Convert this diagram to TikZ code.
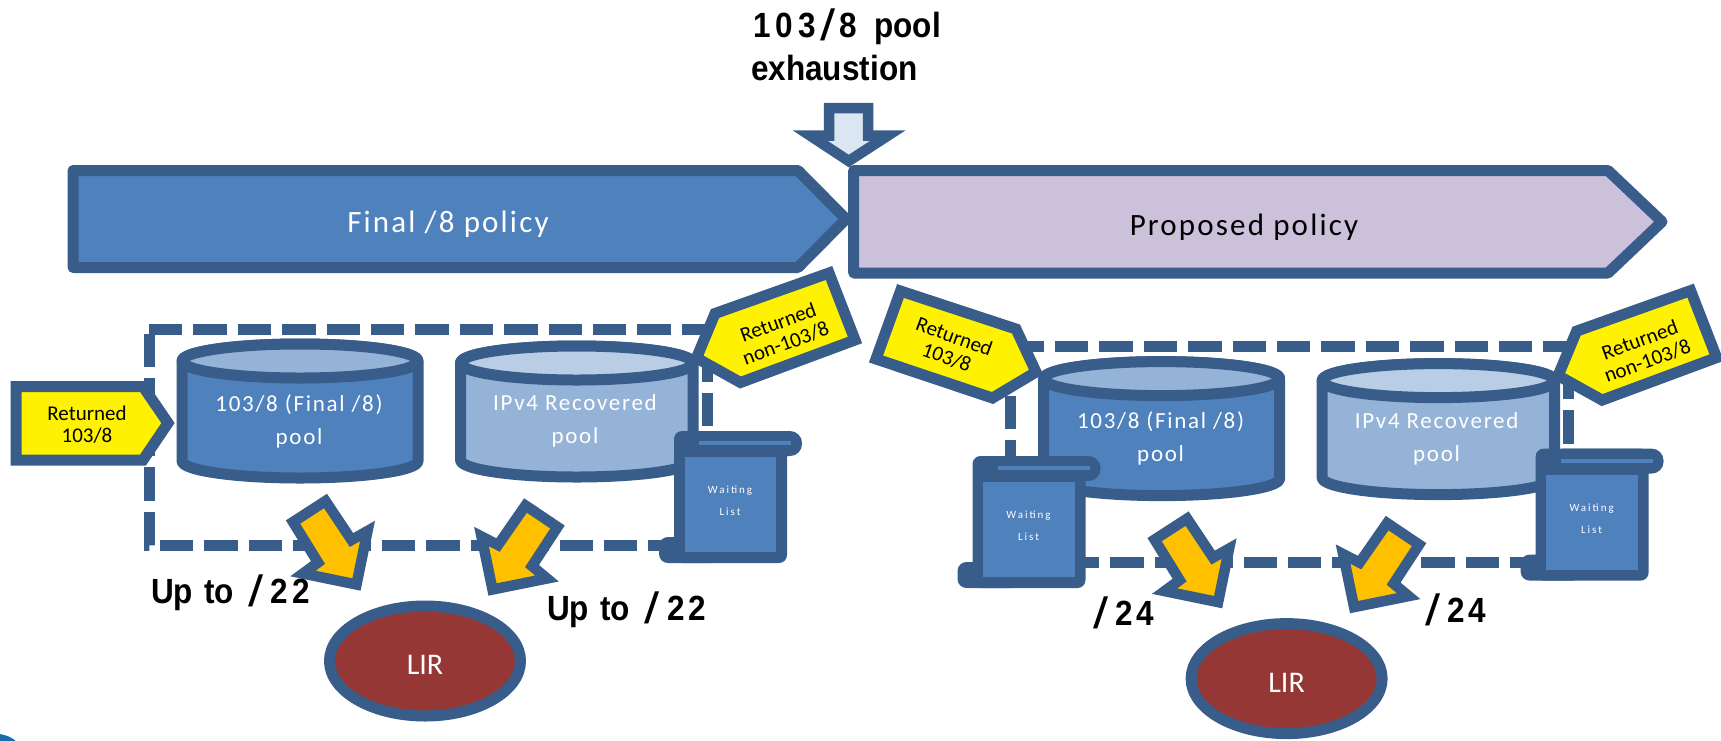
\documentclass[tikz,border=0pt]{standalone}
\usepackage{fontspec}
\setmainfont{Carlito}
\newfontfamily\carlS[LetterSpace=7]{Carlito}
\newfontfamily\carlP[LetterSpace=7.5]{Carlito}
\newfontfamily\carlW[LetterSpace=18]{Carlito}
\newfontfamily\heavy[FakeStretch=0.9]{Liberation Sans Bold}
\newfontfamily\lightface{Liberation Sans}
\newcommand{\fsz}[2]{\fontsize{#1}{#2}\selectfont}
\newcommand{\wslash}{\raisebox{-3pt}{\scalebox{1.55}[1.25]{\lightface /}}}
\definecolor{ol}{HTML}{385D8A}
\definecolor{blueA}{HTML}{4F81BD}
\definecolor{blueB}{HTML}{95B3D7}
\definecolor{blueC}{HTML}{B9CDE5}
\definecolor{lilac}{HTML}{CCC1DA}
\definecolor{pale}{HTML}{DCE6F2}
\definecolor{brick}{HTML}{953735}
\definecolor{amber}{HTML}{FFC000}
\definecolor{blob}{HTML}{1B6CA8}
\tikzset{
  shp/.style={draw=ol,line width=11pt,line join=round},
  sharp/.style={draw=ol,line width=10.5pt,line join=miter,miter limit=10},
  tagshape/.style={draw=ol,line width=11pt,line join=miter,miter limit=10,fill=yellow},
  dashbox/.style={draw=ol,line width=11pt,dash pattern=on 33.4pt off 11pt},
  tagtext/.style={text=black,align=center,font=\fsz{21}{22}},
  pooltext/.style={text=white,align=center,font=\carlP\fsz{23}{33}},
  waittext/.style={text=white,align=center,font=\carlW\fsz{11}{22}},
  bartext/.style={align=center,font=\carlS\fsz{31}{34}},
  liertext/.style={text=white,font=\fsz{30}{32}},
  bigtext/.style={text=black,anchor=base west,inner sep=0pt,font=\heavy\fsz{35}{43}},
}
% cylinder: left, right, top line, bottom line, body fill, top fill
\newcommand{\Cyl}[6]{%
  \draw[shp,fill=#5] (#1,#3+17) -- (#1,#4-17)
    arc[start angle=180,end angle=360,x radius={(#2-#1)/2*1pt},y radius=17pt]
    -- (#2,#3+17) arc[start angle=0,end angle=180,x radius={(#2-#1)/2*1pt},y radius=17pt] -- cycle;
  \draw[shp,fill=#6] ({(#1+#2)/2},#3+17) ellipse[x radius={(#2-#1)/2*1pt},y radius=17pt];
}
% scroll with its text; the scope gives the offset
\newcommand{\Scroll}[1]{%
  \fill[ol,rounded corners=9pt] (659,537) rectangle (720,563);
  \fill[ol,rounded corners=8pt] (674,431) rectangle (787,563);
  \fill[ol,rounded corners=12pt] (690,431) rectangle (802,456);
  \fill[blueA] (684.6,457) rectangle (776,552);
  \fill[blueA] (699,441) rectangle (791,445);
  \node[waittext] (#1) at (730,501) {Waiting\\List};
}
\newcommand{\Arrows}{%
  \draw[sharp,fill=amber] (325.5,501) -- (293,522) -- (318,562.5) -- (303,573.5) -- (356.5,584.5) -- (367.5,531) -- (351.5,540) -- cycle;
  \draw[sharp,fill=amber] (525.5,505.5) -- (557.5,527) -- (532,566) -- (547,578.5) -- (492.5,589.5) -- (481.5,536.5) -- (498,545) -- cycle;
}
\begin{document}
\begin{tikzpicture}[x=1pt,y=-1pt]
\useasboundingbox (0,0) rectangle (1721,740);
\clip (0,0) rectangle (1721,740);
\fill[white] (0,0) rectangle (1721,740);
\fill[blob] (-3,763) circle[radius=29pt];

% top labels
\node[bigtext] (pa) at (753,37.5) {1\kern5pt0\kern5pt3\kern5pt\wslash\kern4pt 8\kern17pt pool};
\node[bigtext] (pb) at (751,80) {exhaustion};

% bars
\draw[shp,fill=blueA] (73,170.5) -- (798,170.5) -- (846,219) -- (798,267.5) -- (73,267.5) -- cycle;
\draw[shp,fill=lilac] (853.7,170.5) -- (1608,170.5) -- (1662,221.7) -- (1608,273) -- (853.7,273) -- cycle;
\node[bartext,text=white] (fp) at (448,224) {Final /8 policy};
\node[bartext,text=black] (pp) at (1244,227) {Proposed policy};
\draw[sharp,fill=pale] (829,108) -- (868,108) -- (868,135.5) -- (888,135.5) -- (848.7,161) -- (810,135.5) -- (829,135.5) -- cycle;

% left half
\draw[dashbox] (149,329) -- (707,329) -- (707,545) -- (149,545) -- cycle;
\Cyl{182}{418}{344}{478}{blueA}{blueB}
\Cyl{460.5}{693}{346}{477}{blueB}{blueC}
\node[pooltext] (l1) at (299,421) {103/8 (Final /8)\\pool};
\node[pooltext] (l2) at (575,421) {IPv4 Recovered\\pool};
\draw[tagshape] (16,386.5) -- (143,386.5) -- (168,423) -- (143,460) -- (16,460) -- cycle;
\node[tagtext] (t1) at (87,425) {Returned\\103/8};
\draw[tagshape] (696.5,358) -- (715,313.5) -- (829,273) -- (855,340) -- (740.5,382.5) -- cycle;
\node[tagtext,rotate=20] (t2) at (782,333) {Returned\\non-103/8};
\Scroll{w1}
\Arrows
\draw[shp,fill=brick] (425,661) ellipse[x radius=95.5pt,y radius=55pt];
\node[liertext] (lir1) at (425,665) {LIR};
\node[bigtext] (u1) at (151,603) {Up\kern11pt to\kern15pt\wslash\kern7pt 2\kern4pt 2};
\node[bigtext] (u2) at (547,620) {Up\kern11pt to\kern15pt\wslash\kern7pt 2\kern4pt 2};

% right half
\begin{scope}[shift={(861.6,17.6)}]
\draw[dashbox] (149,329) -- (707,329) -- (707,545) -- (149,545) -- cycle;
\Cyl{182}{418}{344}{478}{blueA}{blueB}
\Cyl{460.5}{693}{346}{477}{blueB}{blueC}
\node[pooltext] (r1) at (299,421) {103/8 (Final /8)\\pool};
\node[pooltext] (r2) at (575,421) {IPv4 Recovered\\pool};
\draw[tagshape] (696.5,358) -- (715,313.5) -- (829,273) -- (855,340) -- (740.5,382.5) -- cycle;
\node[tagtext,rotate=20] (t4) at (782,333) {Returned\\non-103/8};
\Scroll{w3}
\Arrows
\draw[shp,fill=brick] (425,661) ellipse[x radius=95.5pt,y radius=55pt];
\node[liertext] (lir2) at (425,665) {LIR};
\end{scope}
\draw[tagshape] (900.5,291) -- (1016,329) -- (1036,372) -- (992.5,398) -- (876,359) -- cycle;
\node[tagtext,rotate=-20] (t3) at (950.5,347) {Returned\\103/8};
\begin{scope}[shift={(298.5,25)}]
\Scroll{w2}
\end{scope}
\node[bigtext] (u3) at (1093,625) {\wslash\kern7pt 2\kern4pt 4};
\node[bigtext] (u4) at (1425,622) {\wslash\kern7pt 2\kern4pt 4};
\end{tikzpicture}
\end{document}
